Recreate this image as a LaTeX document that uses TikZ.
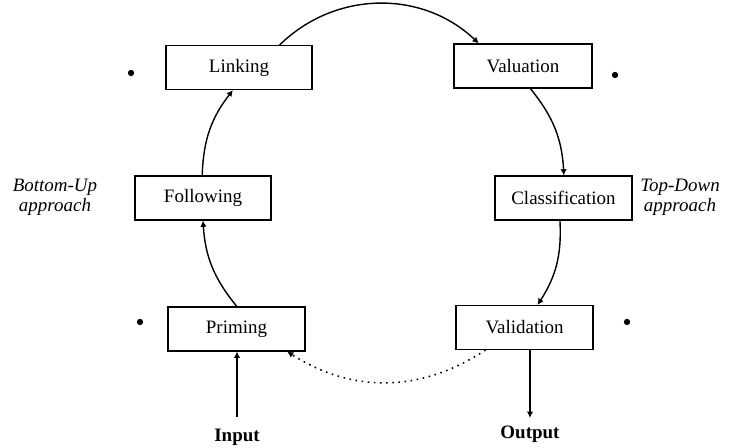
\documentclass[tikz,border=0pt]{standalone}
\usepackage{fontspec}
\setmainfont{Liberation Serif}
\usetikzlibrary{arrows.meta}

\begin{document}
\begin{tikzpicture}[
    x=0.02cm, y=0.02cm,
    mod/.style={draw, line width=0.6pt, minimum width=2.72cm,
                minimum height=0.88cm, inner sep=0pt,
                font=\fontsize{10.8}{12}\selectfont},
    arr/.style={-{Latex[length=3.6pt,width=3.6pt]}, line width=0.8pt},
    dots/.style={arr, line width=0.9pt, dash pattern=on 0.9pt off 2.6pt},
    side/.style={align=center, font=\fontsize{10.8}{11.4}\selectfont\itshape},
    io/.style={font=\fontsize{10.8}{12}\selectfont\bfseries},
    blob/.style={circle, fill, inner sep=0pt, minimum size=3.6pt}
]
    \useasboundingbox (0,0) rectangle (733,448);

    % the six steps
    \node[mod, minimum width=2.92cm] (lk) at (239,380.5) {Linking};
    \node[mod, minimum width=2.76cm] (va) at (523,382)   {Valuation};
    \node[mod] (fo) at (203,250)   {Following};
    \node[mod, minimum width=2.74cm] (cl) at (563.5,250) {Classification};
    \node[mod, minimum width=2.74cm] (pr) at (236.5,119) {Priming};
    \node[mod, minimum width=2.74cm] (vd) at (524.5,120.5) {Validation};

    % side labels
    \node[side] (bu) at (55,251)  {Bottom-Up\\approach};
    \node[side] (td) at (680,251) {Top-Down\\approach};

    % loose marks
    \node[blob] (m1) at (131,375) {};
    \node[blob] (m2) at (615,373) {};
    \node[blob] (m3) at (140,126) {};
    \node[blob] (m4) at (627,126) {};

    % cycle
    \draw[arr] (lk.29)  to[bend left=44] (va.153);
    \draw[arr] (va.-72) to[bend left=18] (cl.89);
    \draw[arr] (cl.-99) to[bend left=18] (vd.60);
    \draw[arr] (pr.89)  to[bend left=18] (fo.-90);
    \draw[arr] (fo.92)  to[bend left=18] (lk.255);
    \draw[dots] (vd.210) to[bend left=33] (pr.-24.5);

    % input / output
    \coordinate (in)  at (237,31);
    \coordinate (out) at (530,30);
    \draw[arr, line width=1pt] (in) -- (in |- pr.south);
    \draw[arr, line width=1pt] (vd.south -| out) -- (out);
    \node[io] (inl)  at (237,11) {Input};
    \node[io] (outl) at (530,14) {Output};
\end{tikzpicture}
\end{document}
